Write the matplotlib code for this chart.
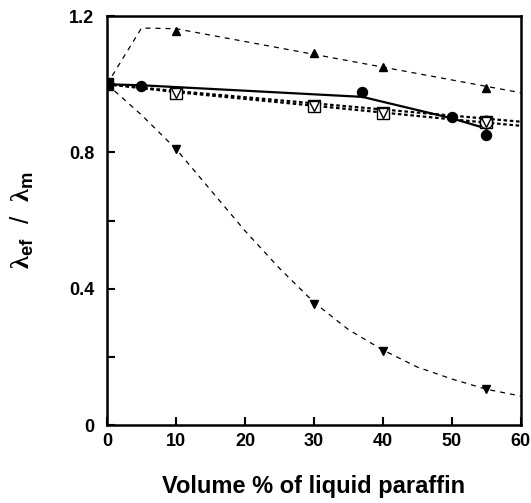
import matplotlib
matplotlib.use('Agg')
import matplotlib.pyplot as plt

plt.rcParams['font.family'] = ['Liberation Sans', 'DejaVu Sans']
plt.rcParams['font.weight'] = 'bold'
plt.rcParams['mathtext.fontset'] = 'custom'
plt.rcParams['mathtext.rm'] = 'Liberation Sans:bold'
plt.rcParams['mathtext.sf'] = 'Liberation Serif'

# measured points
x_circ = [0, 5, 37, 50, 55]
y_circ = [1.0, 0.995, 0.978, 0.903, 0.851]
x_up = [10, 30, 40, 55]
y_up = [1.157, 1.092, 1.051, 0.99]
x_down = [10, 30, 40, 55]
y_down = [0.811, 0.355, 0.218, 0.105]
x_sq = [10, 30, 40, 55]
y_sq = [0.975, 0.936, 0.915, 0.888]
x_open_circ = [55]
y_open_circ = [0.888]

# model curves
x_solid = [0, 5, 37, 50, 55]
y_solid = [1.0, 0.997, 0.963, 0.9, 0.87]
x_fit_up = [0, 5, 10, 60]
y_fit_up = [1.0, 1.165, 1.163, 0.975]
x_fit_down = [0, 5, 10, 15, 20, 25, 30, 35, 40, 45, 50, 55, 60]
y_fit_down = [1.0, 0.91, 0.81, 0.69, 0.57, 0.46, 0.36, 0.28, 0.22, 0.17, 0.135, 0.105, 0.085]
x_fit_a = [0, 10, 20, 30, 40, 50, 60]
y_fit_a = [1.0, 0.98, 0.962, 0.944, 0.926, 0.908, 0.89]
y_fit_b = [1.0, 0.977, 0.957, 0.937, 0.917, 0.897, 0.878]

fig = plt.figure(figsize=(5.31, 5.03), dpi=100)
ax = fig.add_axes([0.2015, 0.155, 0.7795, 0.813])

ax.plot(x_fit_up, y_fit_up, color='black', lw=0.9, dashes=(4, 4))
ax.plot(x_fit_down, y_fit_down, color='black', lw=0.9, dashes=(4, 4))
ax.plot(x_fit_a, y_fit_a, color='black', lw=1.6, dashes=(1.6, 1.2))
ax.plot(x_fit_a, y_fit_b, color='black', lw=1.6, dashes=(1.6, 1.2))
ax.plot(x_solid, y_solid, color='black', lw=1.6)

ax.plot(x_up, y_up, '^', color='black', ms=6)
ax.plot(x_down, y_down, 'v', color='black', ms=6)
ax.plot(x_sq, y_sq, 's', mfc='white', mec='black', ms=8.5, mew=1.0)
ax.plot(x_sq, y_sq, 'v', mfc='none', mec='black', ms=6.5, mew=1.0)
ax.plot(x_open_circ, y_open_circ, 'o', mfc='none', mec='black', ms=9, mew=1.0)
ax.plot(x_circ, y_circ, 'o', color='black', ms=7.2)
ax.plot([0], [1.0], 's', color='black', ms=8.5)

ax.set_xlim(0, 60)
ax.set_ylim(0, 1.2)
ax.set_xticks([0, 10, 20, 30, 40, 50, 60])
ax.set_yticks([0, 0.4, 0.8, 1.2])
ax.set_yticklabels(['0', '0.4', '0.8', '1.2'])
ax.set_yticks([0.2, 0.6, 1.0], minor=True)
ax.tick_params(axis='both', direction='in', labelsize=13, width=1.5, length=6)
ax.tick_params(axis='x', pad=6)
ax.tick_params(axis='y', pad=9)
ax.tick_params(axis='y', which='minor', direction='in', width=1.5, length=6)
for s in ax.spines.values():
    s.set_linewidth(1.8)

ax.set_xlabel('Volume % of liquid paraffin', fontsize=17, fontweight='bold', labelpad=18)
ax.set_ylabel(r'$\mathsf{\lambda}_{\rm ef}$  /  $\mathsf{\lambda}_{\rm m}$', fontsize=19, labelpad=24)

fig.savefig('out.png', dpi=100)
